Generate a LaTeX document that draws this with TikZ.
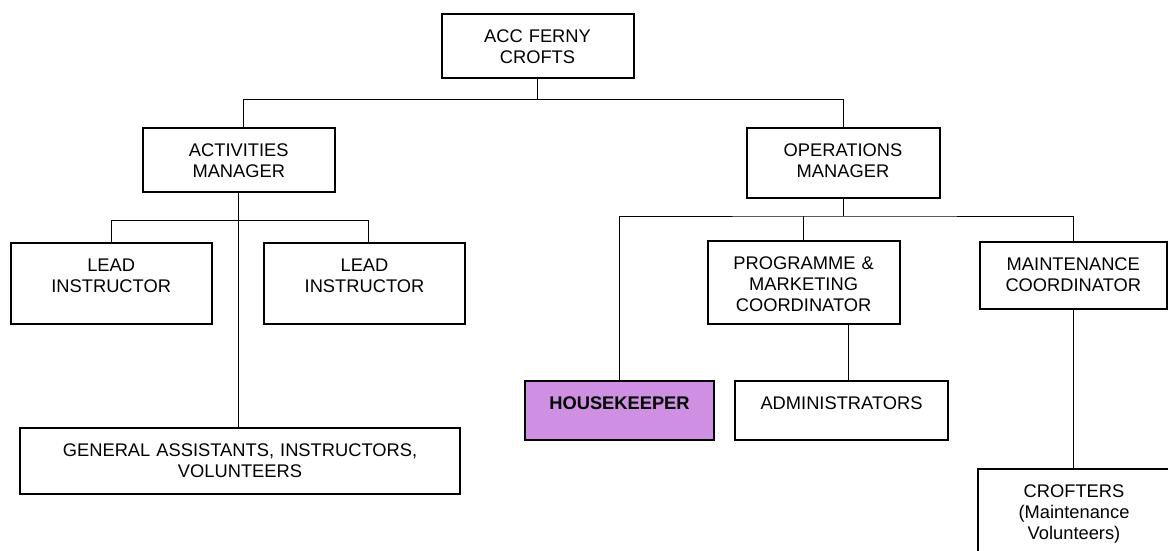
\documentclass[tikz,border=0pt]{standalone}
\usepackage{fontspec}
\setmainfont{Liberation Sans}
\definecolor{houselilac}{RGB}{207,143,227}
\begin{document}
\begin{tikzpicture}[x=1pt,y=-1pt]
      \tikzstyle{role}=[draw,line width=2pt,inner sep=0pt,anchor=north,align=center,text height=28.5pt,font=\fontsize{18.3}{21}\selectfont]
      \tikzstyle{wire}=[line width=1pt]
      \useasboundingbox (0,0) rectangle (1168,551);
      \node[role,text width=192pt,text depth=34.9pt] (acc) at (537.5,13.3) {ACC FERNY\\CROFTS};
      \node[role,text width=192pt,text depth=34.9pt] (act) at (238.8,127.3) {ACTIVITIES\\MANAGER};
      \node[role,text width=193pt,text depth=40.9pt] (ops) at (843,127.3) {OPERATIONS\\MANAGER};
      \node[role,text width=201pt,text depth=53.3pt] (leadA) at (111.2,241.5) {LEAD\\INSTRUCTOR};
      \node[role,text width=201pt,text depth=53.3pt] (leadB) at (364.5,241.5) {LEAD\\INSTRUCTOR};
      \node[role,text width=192pt,text depth=54.2pt] (prog) at (803.6,240) {PROGRAMME \&\\MARKETING\\COORDINATOR};
      \node[role,text width=187pt,text depth=38.5pt] (maint) at (1073.3,240.7) {MAINTENANCE\\COORDINATOR};
      \node[role,fill=houselilac,text width=189pt,text depth=30.8pt,font=\fontsize{18.3}{21}\selectfont\bfseries] (house) at (619.5,380) {HOUSEKEEPER};
      \node[role,text width=213pt,text depth=30.8pt] (admin) at (841.5,380) {ADMINISTRATORS};
      \node[role,text width=440pt,text depth=38.1pt] (gen) at (240,426.7) {GENERAL ASSISTANTS, INSTRUCTORS,\\VOLUNTEERS};
      \node[role,text width=192pt,text depth=91.5pt] (crof) at (1074,467.7) {CROFTERS\\(Maintenance\\Volunteers)};
      % bus lines
      \coordinate (topbus) at (0,99.5);
      \coordinate (actbus) at (0,220.7);
      \coordinate (opsbus) at (0,216);
      \draw[wire] (acc.south) -- (acc.south |- topbus);
      \draw[wire] ([xshift=4.5pt]act.north) |- (acc.south |- topbus) -| (ops.north);
      \draw[wire] (act.south) -- (act.south |- gen.north);
      \draw[wire] (leadA.north) |- (act.south |- actbus) -| ([xshift=3.8pt]leadB.north);
      \draw[wire] (ops.south) -- (ops.south |- opsbus);
      \draw[wire] (house.north) |- (ops.south |- opsbus) -| (maint.north);
      \draw[wire] (prog.north) -- (prog.north |- opsbus);
      \draw[wire] ([xshift=6.5pt]admin.north) -- ([xshift=6.5pt]admin.north |- prog.south);
      \draw[wire] (maint.south) -- (maint.south |- crof.north);
\end{tikzpicture}
\end{document}
